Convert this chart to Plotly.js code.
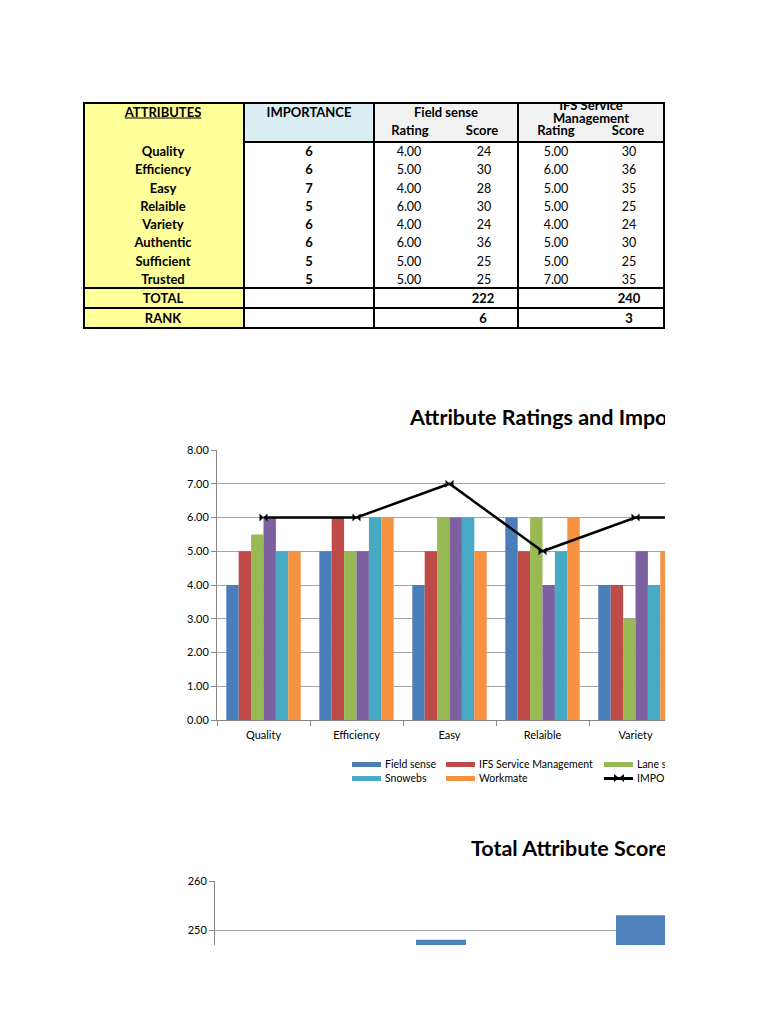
<!DOCTYPE html>
<html>
<head>
<meta charset="utf-8">
<script src="https://cdn.plot.ly/plotly-3.0.1.min.js"></script>
<style>
  html, body { margin:0; padding:0; background:#fff; width:768px; height:1024px; overflow:hidden; }
  body { position:relative; font-family: Lato, "Open Sans", sans-serif; color:#000; }
  .abs { position:absolute; }
  .t { position:absolute; transform:translate(-50%,-50%); white-space:nowrap; font-size:12.5px; line-height:15px; }
  .b { font-weight:bold; font-size:13px; }
  .clip { position:absolute; left:0; overflow:hidden; width:665px; }
  .leg { position:absolute; font-size:10.5px; white-space:nowrap; line-height:12px; transform:translateY(-50%); }
</style>
</head>
<body>
<div id="table"></div>
<div class="clip" style="top:390px;height:400px;">
  <div id="chart1" class="abs" style="left:0;top:0;width:1010px;height:400px;"></div>
</div>
<div class="clip" id="legendClip" style="top:750px;height:40px;"></div>
<div class="clip" style="top:820px;height:125px;">
  <div id="chart2" class="abs" style="left:0;top:0;width:1010px;height:415px;"></div>
</div>
<script>
// ---------------- data ----------------
const attributes = ['Quality','Efficiency','Easy','Relaible','Variety','Authentic','Sufficient','Trusted'];
const importance = [6,6,7,5,6,6,5,5];
const fieldSenseRating = [4,5,4,6,4,6,5,5];
const fieldSenseScore  = [24,30,28,30,24,36,25,25];
const ifsRating = [5,6,5,5,4,5,5,7];
const ifsScore  = [30,36,35,25,24,30,25,35];
const fieldSenseTotal = 222, fieldSenseRank = 6;
const ifsTotal = 240, ifsRank = 3;
// remaining series only visible for the first five attributes
const laneRating     = [5.5,5,6,6,3,null,null,null];
const fourthRating   = [6,5,6,4,5,null,null,null];
const snowebsRating  = [5,6,6,5,4,null,null,null];
const workmateRating = [5,6,5,6,5,null,null,null];
const seriesNames = ['Field sense','IFS Service Management','Lane services','Service Pro','Snowebs','Workmate','IMPORTANCE'];
const seriesColors = ['#4a7ebb','#be4b48','#98b954','#7d60a0','#46aac5','#f69240'];
const companies = ['Field sense','IFS Service Management','Lane services','Service Pro','Snowebs','Workmate'];
const totalScores = [222,240,248,null,253,null];

// ---------------- table ----------------
const T = document.getElementById('table');
function rect(x1,y1,x2,y2,color){
  const d=document.createElement('div'); d.className='abs';
  d.style.left=x1+'px'; d.style.top=y1+'px'; d.style.width=(x2-x1)+'px'; d.style.height=(y2-y1)+'px';
  d.style.background=color; T.appendChild(d); return d;
}
function txt(x,y,s,bold,extra){
  const d=document.createElement('div'); d.className='t'+(bold?' b':'');
  d.style.left=x+'px'; d.style.top=y+'px'; d.textContent=s;
  if(extra) Object.assign(d.style,extra);
  T.appendChild(d); return d;
}
rect(83,103,244,328,'#ffff99');
rect(244,103,374,142,'#dbeef4');
rect(374,103,518,142,'#f2f2f2');
rect(518,103,664,142,'#f2f2f2');
// header texts
txt(163,112,'ATTRIBUTES',true,{textDecoration:'underline'});
txt(309,112,'IMPORTANCE',true);
txt(446,112,'Field sense',true);
txt(410,130,'Rating',true); txt(482,130,'Score',true);
// IFS header clipped at top
const hc=document.createElement('div'); hc.className='abs';
Object.assign(hc.style,{left:'518px',top:'103px',width:'146px',height:'39px',overflow:'hidden'});
T.appendChild(hc);
function htxt(x,y,s){const d=document.createElement('div'); d.className='t b'; d.style.left=x+'px'; d.style.top=y+'px'; d.textContent=s; hc.appendChild(d);}
htxt(73,1.5,'IFS Service'); htxt(73,14.5,'Management');
htxt(38,27,'Rating'); htxt(110,27,'Score');
// rows
const rowTop=142, rowH=18.25;
attributes.forEach((a,i)=>{
  const y=rowTop+rowH*(i+0.5);
  txt(163,y,a,true);
  txt(309,y,String(importance[i]),true);
  txt(409,y,fieldSenseRating[i].toFixed(2));
  txt(484,y,String(fieldSenseScore[i]));
  txt(556,y,ifsRating[i].toFixed(2));
  txt(629,y,String(ifsScore[i]));
});
txt(163,298,'TOTAL',true); txt(483,298,String(fieldSenseTotal),true); txt(629,298,String(ifsTotal),true);
txt(163,318,'RANK',true); txt(483,318,String(fieldSenseRank),true); txt(629,318,String(ifsRank),true);
// borders
rect(83,102,665,104,'#000');
[83,243,373,517,663].forEach(x=>rect(x,102,x+2,329,'#000'));
rect(244,141,665,143,'#000');
[287,307,327].forEach(y=>rect(83,y,665,y+2,'#000'));

// ---------------- chart 1 ----------------
const font = "Lato, 'Open Sans', sans-serif";
const ratingSeries=[fieldSenseRating,ifsRating,laneRating,fourthRating,snowebsRating,workmateRating];
const traces1 = ratingSeries.map((v,i)=>({
  type:'bar', x:attributes, y:v, name:seriesNames[i], marker:{color:seriesColors[i]}
}));
traces1.push({type:'scatter', mode:'lines+markers', x:attributes, y:importance, name:seriesNames[6],
  line:{color:'#000',width:2.5}, marker:{symbol:'bowtie',size:8,color:'#000'}});
Plotly.newPlot('chart1', traces1, {
  width:1010, height:400, margin:{l:217,r:49,t:60,b:70},
  paper_bgcolor:'#fff', plot_bgcolor:'#fff', showlegend:false,
  barmode:'group', bargap:0.2, bargroupgap:0,
  font:{family:font,color:'#000',size:10},
  title:{text:'<b>Attribute Ratings and Importance</b>', font:{family:font,size:21.5,color:'#000'},
    xref:'container', x:410/1010, xanchor:'left', yref:'container', y:1-27/400, yanchor:'middle'},
  xaxis:{type:'category', showline:true, linecolor:'#868686', linewidth:1, ticks:'outside', tickson:'boundaries',
    ticklen:5, tickcolor:'#868686', tickfont:{size:11}, ticklabelstandoff:5, showgrid:false, zeroline:false},
  yaxis:{range:[0,8], dtick:1, tickformat:'.2f', showline:true, linecolor:'#868686', ticks:'outside', ticklen:5,
    tickcolor:'#868686', gridcolor:'#a6a6a6', zeroline:false, tickfont:{size:11}}
}, {staticPlot:true, displayModeBar:false});

// legend (HTML)
const L=document.getElementById('legendClip');
const legendPos=[[352,14],[446,14],[604,14],[763,14],[352,28],[446,28],[604,28]];
// legend order: Field sense, IFS, Lane, 4th (row1); Snowebs, Workmate, IMPORTANCE (row2)
seriesNames.forEach((n,i)=>{
  const [x,y]=legendPos[i];
  const s=document.createElement('div'); s.className='abs';
  if(i<6){
    Object.assign(s.style,{left:x+'px',top:(y-2.5)+'px',width:'29px',height:'5px',background:seriesColors[i]});
  } else {
    Object.assign(s.style,{left:x+'px',top:(y-1)+'px',width:'29px',height:'2.5px',background:'#000'});
    const m=document.createElement('div'); m.className='abs';
    m.innerHTML='<svg width="10" height="8" viewBox="0 0 10 8"><path d="M0,0 L10,8 L10,0 L0,8 Z" fill="#000"/></svg>';
    Object.assign(m.style,{left:(x+10)+'px',top:(y-4)+'px',width:'10px',height:'8px',lineHeight:'0'});
    L.appendChild(m);
  }
  L.appendChild(s);
  const t=document.createElement('div'); t.className='leg';
  t.style.left=(x+33)+'px'; t.style.top=y+'px'; t.textContent=n; L.appendChild(t);
});

// ---------------- chart 2 ----------------
Plotly.newPlot('chart2', [{type:'bar', x:companies, y:totalScores, marker:{color:'#4f81bd'}, name:'Total'}], {
  width:1010, height:415, margin:{l:215,r:51,t:61,b:60},
  paper_bgcolor:'#fff', plot_bgcolor:'#fff', showlegend:false, bargap:0.5,
  font:{family:font,color:'#000',size:10},
  title:{text:'<b>Total Attribute Scores</b>', font:{family:font,size:21.5,color:'#000'},
    xref:'container', x:471/1010, xanchor:'left', yref:'container', y:1-28/415, yanchor:'middle'},
  xaxis:{type:'category', range:[-0.26,7.18], showline:true, linecolor:'#868686', ticks:'outside', tickson:'boundaries',
    ticklen:5, tickcolor:'#868686', showgrid:false, zeroline:false},
  yaxis:{range:[200,260], dtick:10, showline:true, linecolor:'#868686', ticks:'outside', ticklen:5,
    tickcolor:'#868686', gridcolor:'#a6a6a6', zeroline:false, tickfont:{size:11}}
}, {staticPlot:true, displayModeBar:false});
</script>
</body>
</html>
